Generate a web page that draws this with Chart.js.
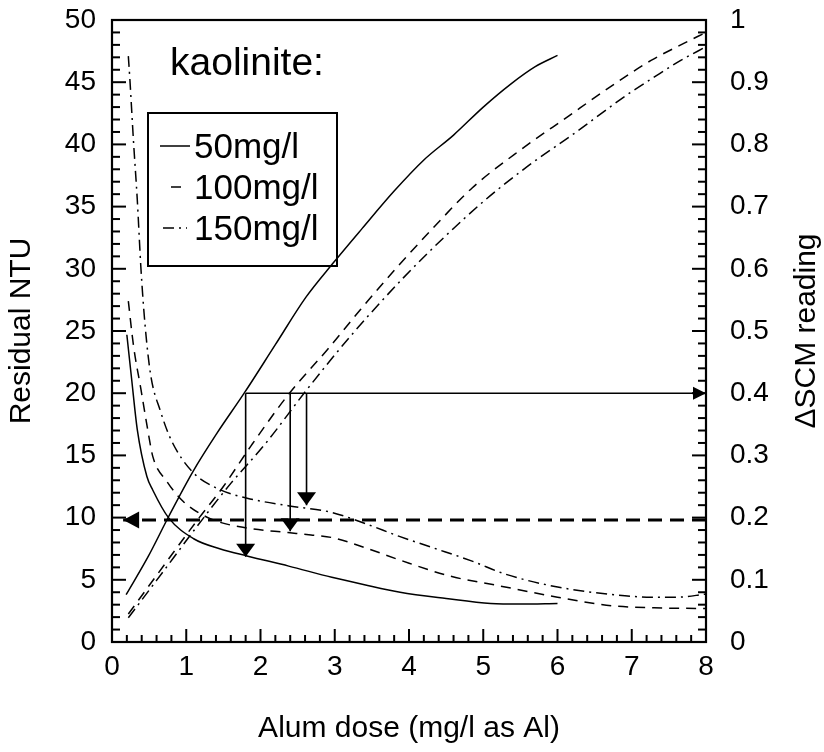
<!DOCTYPE html>
<html>
<head>
<meta charset="utf-8">
<script src="https://cdn.jsdelivr.net/npm/chart.js@4.4.1/dist/chart.umd.min.js"></script>
<style>
  html, body { margin: 0; padding: 0; background: #fff; }
  canvas { display: block; }
</style>
</head>
<body>
<canvas id="chart" width="824" height="752"></canvas>
<script>
// Residual turbidity (NTU) after alum coagulation, per kaolinite concentration
const ntu50Dose  = [0.2, 0.265, 0.34, 0.47, 0.55, 0.76, 1.1, 1.45, 1.83, 2.38, 2.96, 3.4, 3.88, 4.5, 5.1, 5.5, 6.0];
const ntu50      = [24.7, 21.1, 17.1, 13.3, 12.2, 10.0, 8.3, 7.5, 6.9, 6.1, 5.2, 4.6, 4.0, 3.5, 3.1, 3.05, 3.1];

const ntu100Dose = [0.22, 0.29, 0.39, 0.48, 0.55, 0.74, 0.96, 1.33, 1.83, 2.37, 2.68, 2.96, 3.4, 3.87, 4.55, 5.23, 6.0, 6.76, 7.3, 7.89, 8.0];
const ntu100     = [27.4, 23.8, 20.3, 17.1, 14.9, 12.9, 11.3, 9.9, 9.15, 8.8, 8.6, 8.4, 7.6, 6.6, 5.3, 4.5, 3.6, 2.9, 2.75, 2.7, 2.7];

const ntu150Dose = [0.22, 0.24, 0.29, 0.34, 0.39, 0.445, 0.52, 0.65, 0.8, 1.08, 1.42, 1.82, 2.37, 2.95, 3.42, 3.87, 4.31, 4.85, 5.3, 6.02, 6.76, 7.26, 7.6, 8.0];
const ntu150     = [47.1, 45.3, 40.2, 35.6, 30.0, 25.5, 21.5, 18.6, 16.2, 13.7, 12.34, 11.56, 10.96, 10.43, 9.5, 8.49, 7.6, 6.5, 5.45, 4.4, 3.8, 3.6, 3.6, 3.85];

// ΔSCM readings for the same suspensions
const scm50Dose  = [0.19, 0.49, 0.76, 1.09, 1.41, 1.78, 2.2, 2.61, 2.97, 3.37, 3.8, 4.2, 4.6, 5.0, 5.37, 5.7, 6.0];
const scm50      = [0.076, 0.138, 0.201, 0.274, 0.335, 0.40, 0.478, 0.554, 0.608, 0.665, 0.725, 0.775, 0.815, 0.86, 0.897, 0.925, 0.943];

const scm100Dose = [0.22, 0.6, 1.15, 1.5, 1.87, 2.39, 2.9, 3.35, 3.82, 4.32, 4.85, 5.42, 6.13, 6.89, 7.26, 7.66, 8.0];
const scm100     = [0.045, 0.107, 0.196, 0.25, 0.315, 0.40, 0.47, 0.535, 0.60, 0.665, 0.73, 0.784, 0.844, 0.907, 0.935, 0.96, 0.98];

const scm150Dose = [0.22, 0.6, 1.21, 1.6, 2.06, 2.62, 3.2, 3.92, 4.45, 5.02, 5.6, 6.23, 6.94, 7.3, 7.66, 8.0];
const scm150     = [0.039, 0.099, 0.196, 0.255, 0.318, 0.405, 0.49, 0.585, 0.648, 0.71, 0.765, 0.818, 0.88, 0.908, 0.935, 0.957];

const seriesLabels = ['50mg/l', '100mg/l', '150mg/l'];
const mineralLabel = 'kaolinite:';

// Worked example: a ΔSCM target read across to each curve, then down to residual NTU
const scmTarget   = 0.4;
const targetDoses = [1.8, 2.4, 2.62];
const residualAtTarget = [6.85, 8.9, 11.0];
const ntuLevel    = 9.8;
const ntuLevelFrom = 8.0;
const ntuLevelTo   = 0.15;

// Axis ranges and tick spacing
const doseRange = [0, 8], doseMajor = 1, doseMinor = 0.2;
const ntuRange  = [0, 50], ntuMajor = 5, ntuMinor = 1;
const scmRange  = [0, 1],  scmMajor = 0.1, scmMinor = 0.02;

// Plot box on the canvas (px) and tick mark lengths (px)
const plotBox = { left: 112, top: 20, right: 706, bottom: 642 };
const tickLen = { major: 14, minor: 8 };

const FONT = "'Liberation Sans', Arial, Helvetica, sans-serif";
const lineDashes = [[], [10, 7], [11, 5, 2, 5]];

const pts = (xs, ys) => xs.map((x, i) => ({ x, y: ys[i] }));

function curve(label, xs, ys, axis, dash) {
  return {
    label, data: pts(xs, ys), yAxisID: axis,
    borderColor: '#000', borderWidth: 1.5, borderDash: dash,
    pointRadius: 0, fill: false, cubicInterpolationMode: 'monotone'
  };
}

function arrow(points, axis, opts) {
  return Object.assign({
    label: '', data: points, yAxisID: axis,
    borderColor: '#000', borderWidth: 1.6, borderDash: [],
    pointRadius: 0, fill: false, tension: 0,
    arrowHead: { length: 12, width: 16 }
  }, opts || {});
}

const isMultiple = (v, step) => Math.abs(v / step - Math.round(v / step)) < 1e-6;
const range = (lo, hi, step) => {
  const out = [];
  for (let k = 0; k <= Math.round((hi - lo) / step); k++) out.push(lo + k * step);
  return out;
};

// one short segment per tick, each its own two-point dataset
function tickSegments() {
  const dosePerPx = (doseRange[1] - doseRange[0]) / (plotBox.right - plotBox.left);
  const ntuPerPx  = (ntuRange[1] - ntuRange[0]) / (plotBox.bottom - plotBox.top);
  const seg = (p, q, axis) => ({
    label: '', data: [p, q], yAxisID: axis,
    borderColor: '#000', borderWidth: 2, borderDash: [],
    pointRadius: 0, fill: false, tension: 0
  });
  const out = [];
  range(ntuRange[0], ntuRange[1], ntuMinor).forEach(v => {
    const len = (isMultiple(v, ntuMajor) ? tickLen.major : tickLen.minor) * dosePerPx;
    out.push(seg({ x: doseRange[0], y: v }, { x: doseRange[0] + len, y: v }, 'y'));
  });
  range(scmRange[0], scmRange[1], scmMinor).forEach(v => {
    const len = (isMultiple(v, scmMajor) ? tickLen.major : tickLen.minor) * dosePerPx;
    out.push(seg({ x: doseRange[1] - len, y: v }, { x: doseRange[1], y: v }, 'y2'));
  });
  range(doseRange[0], doseRange[1], doseMinor).forEach(v => {
    const len = (isMultiple(v, doseMajor) ? tickLen.major - 1 : tickLen.minor - 1) * ntuPerPx;
    out.push(seg({ x: v, y: ntuRange[0] }, { x: v, y: ntuRange[0] + len }, 'y'));
  });
  return out;
}

const ntuPerScm = (ntuRange[1] - ntuRange[0]) / (scmRange[1] - scmRange[0]);
const targetNtu = scmTarget * ntuPerScm;

const datasets = [
  curve(seriesLabels[0], ntu50Dose,  ntu50,  'y',  lineDashes[0]),
  curve(seriesLabels[1], ntu100Dose, ntu100, 'y',  lineDashes[1]),
  curve(seriesLabels[2], ntu150Dose, ntu150, 'y',  lineDashes[2]),
  curve(seriesLabels[0], scm50Dose,  scm50,  'y2', lineDashes[0]),
  curve(seriesLabels[1], scm100Dose, scm100, 'y2', lineDashes[1]),
  curve(seriesLabels[2], scm150Dose, scm150, 'y2', lineDashes[2]),
  arrow([{ x: targetDoses[0], y: scmTarget }, { x: doseRange[1], y: scmTarget }], 'y2',
        { arrowHead: { length: 13, width: 13 } }),
  ...targetDoses.map((d, i) =>
    arrow([{ x: d, y: targetNtu }, { x: d, y: residualAtTarget[i] }], 'y',
          { arrowHead: { length: 13, width: 19 } })),
  arrow([{ x: ntuLevelFrom, y: ntuLevel }, { x: ntuLevelTo, y: ntuLevel }], 'y',
        { borderWidth: 3, borderDash: [14, 8], arrowHead: { length: 16, width: 17 } }),
  ...tickSegments()
];

// Filled arrowheads at the last point of each arrow dataset
const arrowHeads = {
  id: 'arrowHeads',
  afterDatasetsDraw(chart) {
    const ctx = chart.ctx;
    chart.data.datasets.forEach((ds, i) => {
      if (!ds.arrowHead) return;
      const els = chart.getDatasetMeta(i).data;
      const tip = els[els.length - 1], prev = els[els.length - 2];
      const ang = Math.atan2(tip.y - prev.y, tip.x - prev.x);
      const { length, width } = ds.arrowHead;
      ctx.save();
      ctx.translate(tip.x, tip.y);
      ctx.rotate(ang);
      ctx.beginPath();
      ctx.moveTo(0, 0);
      ctx.lineTo(-length, width / 2);
      ctx.lineTo(-length, -width / 2);
      ctx.closePath();
      ctx.fillStyle = '#000';
      ctx.fill();
      ctx.restore();
    });
  }
};

// Box frame, heading, key and right-hand axis title
const annotations = {
  id: 'annotations',
  afterDraw(chart) {
    const ctx = chart.ctx;
    const a = chart.chartArea;
    ctx.save();
    ctx.setLineDash([]);
    ctx.fillStyle = '#000';
    ctx.strokeStyle = '#000';

    ctx.lineWidth = 2.2;
    ctx.strokeRect(a.left, a.top, a.right - a.left, a.bottom - a.top);

    ctx.textBaseline = 'alphabetic';
    ctx.textAlign = 'left';
    ctx.font = `39px ${FONT}`;
    ctx.fillText(mineralLabel, 170, 75);

    ctx.lineWidth = 2;
    ctx.strokeRect(148, 113, 189, 153);
    const rows = [158, 199, 240];
    const samples = [[160, 190], [171, 181], [163, 187]];
    ctx.font = `35px ${FONT}`;
    seriesLabels.forEach((lab, i) => {
      const midY = rows[i] - 12;
      ctx.save();
      ctx.lineWidth = 1.5;
      ctx.setLineDash(lineDashes[i]);
      ctx.beginPath();
      ctx.moveTo(samples[i][0], midY);
      ctx.lineTo(samples[i][1], midY);
      ctx.stroke();
      ctx.restore();
      ctx.fillText(lab, 194, rows[i]);
    });

    ctx.font = `30px ${FONT}`;
    ctx.textAlign = 'center';
    ctx.textBaseline = 'middle';
    ctx.translate(807, (a.top + a.bottom) / 2);
    ctx.rotate(-Math.PI / 2);
    ctx.fillText('ΔSCM reading', 0, 0);
    ctx.restore();
  }
};

Chart.defaults.font.family = FONT;
Chart.defaults.color = '#000';

const noEdgePadding = s => { s.paddingTop = 0; s.paddingBottom = 0; s.paddingLeft = 0; s.paddingRight = 0; };
const hiddenGrid = { display: false, drawTicks: false };

new Chart(document.getElementById('chart'), {
  type: 'line',
  data: { datasets },
  options: {
    responsive: false,
    animation: false,
    devicePixelRatio: 1,
    layout: { padding: { top: plotBox.top, left: 0, right: 0, bottom: 0 } },
    plugins: { legend: { display: false }, tooltip: { enabled: false } },
    scales: {
      x: {
        type: 'linear', min: doseRange[0], max: doseRange[1],
        grid: hiddenGrid,
        border: { display: false },
        ticks: { stepSize: doseMajor, padding: 8, font: { size: 28 }, color: '#000', maxRotation: 0 },
        title: { display: true, text: 'Alum dose (mg/l as Al)', font: { size: 30 }, color: '#000',
                 padding: { top: 0, bottom: 5 } },
        afterFit(s) { s.height = 752 - plotBox.bottom; noEdgePadding(s); }
      },
      y: {
        type: 'linear', position: 'left', min: ntuRange[0], max: ntuRange[1],
        grid: hiddenGrid,
        border: { display: false },
        ticks: { stepSize: ntuMajor, padding: 16, font: { size: 28 }, color: '#000' },
        title: { display: true, text: 'Residual NTU', font: { size: 30 }, color: '#000',
                 padding: { top: 4, bottom: 0 } },
        afterFit(s) { s.width = plotBox.left; noEdgePadding(s); }
      },
      y2: {
        type: 'linear', position: 'right', min: scmRange[0], max: scmRange[1],
        grid: hiddenGrid,
        border: { display: false },
        ticks: {
          stepSize: scmMajor, padding: 24, font: { size: 28 }, color: '#000',
          callback: v => String(Math.round(v * 10) / 10)
        },
        title: { display: false },
        afterFit(s) { s.width = 824 - plotBox.right; noEdgePadding(s); }
      }
    }
  },
  plugins: [arrowHeads, annotations]
});
</script>
</body>
</html>
